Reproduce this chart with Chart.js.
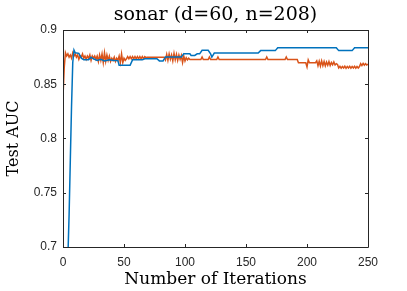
<!DOCTYPE html>
<html>
<head>
<meta charset="utf-8">
<script src="https://cdn.jsdelivr.net/npm/chart.js@4"></script>
<style>
  html, body { margin: 0; padding: 0; background: #fff; }
  #wrap { width: 407px; height: 291px; }
</style>
</head>
<body>
<div id="wrap"><canvas id="aucChart" width="407" height="291"></canvas></div>
<script>
// Blue curve (step-like), breakpoints
const blueIter = [0, 1, 2, 3, 4, 5, 6, 7, 8, 9, 10, 13, 15, 17, 21, 23, 25, 28, 31, 34, 38, 42, 45, 46, 55, 57, 65, 67, 77, 79, 82, 84, 97, 99, 104, 105, 108, 110, 112, 114, 119, 121, 122, 124, 160, 162, 174, 176, 224, 226, 237, 239, 250];
const blueAuc = [0.52, 0.56, 0.60, 0.645, 0.69, 0.73, 0.78, 0.83, 0.87, 0.8815, 0.879, 0.8785, 0.874, 0.8725, 0.8725, 0.875, 0.8735, 0.872, 0.873, 0.8715, 0.8725, 0.872, 0.8718, 0.8675, 0.8675, 0.8725, 0.8725, 0.8735, 0.8735, 0.8715, 0.8715, 0.8752, 0.8752, 0.878, 0.878, 0.8765, 0.8765, 0.878, 0.878, 0.8813, 0.8813, 0.878, 0.875, 0.8788, 0.8788, 0.881, 0.881, 0.8837, 0.8837, 0.881, 0.881, 0.8837, 0.8837];

// Orange curve (noisy)
const orangeIter = [
  0, 1, 2, 3, 4, 5, 6, 7, 8, 9, 10, 11, 12, 13, 14, 15, 16, 17, 18, 19, 20, 21, 22, 23, 24, 25,
  26, 27, 28, 29, 30, 31, 32, 33, 34, 35, 36, 37, 38, 39, 40, 41, 42, 43, 44, 45, 46, 47, 48, 49, 50, 51,
  52, 53, 54, 55, 56, 57, 58, 59, 60, 61, 62, 63, 64, 65, 66, 67, 68,
  69, 83,
  84, 85, 86, 87, 88, 89, 90, 91, 92, 93, 94, 95, 96, 97, 98, 99, 100, 101, 102, 103,
  104, 113, 114, 115, 119, 120, 121, 126, 127, 128, 166, 167, 168, 182, 183, 184, 192, 193,
  199, 200, 201, 202, 207,
  208, 209, 210, 211, 212, 213, 214, 215, 216, 217, 218, 219, 220, 221, 222, 223, 224, 225,
  226, 227, 228, 229, 230, 231, 232, 233, 234, 235, 236, 237, 238, 239, 240, 241, 242, 243,
  244, 245, 246, 247, 248, 249, 250
];
const orangeAuc = [
  0.838, 0.865, 0.879, 0.876, 0.878, 0.875, 0.877, 0.874, 0.879, 0.876, 0.878, 0.875, 0.877, 0.873, 0.876, 0.875, 0.878, 0.874, 0.876, 0.873, 0.876, 0.874, 0.877, 0.872, 0.876, 0.874,
  0.876, 0.873, 0.876, 0.871, 0.877, 0.872, 0.878, 0.870, 0.879, 0.871, 0.877, 0.872, 0.876, 0.871, 0.874, 0.872, 0.875, 0.871, 0.874, 0.872, 0.876, 0.870, 0.878, 0.870, 0.874, 0.872,
  0.8735, 0.8755, 0.8735, 0.8755, 0.8735, 0.8755, 0.8735, 0.8755, 0.8735, 0.8755, 0.8735, 0.8755, 0.8735, 0.8755, 0.8735, 0.8755, 0.8745,
  0.875, 0.875,
  0.8725, 0.8775, 0.872, 0.878, 0.873, 0.877, 0.8715, 0.8785, 0.8725, 0.8775, 0.872, 0.877, 0.873, 0.8765, 0.870, 0.876, 0.8715, 0.8745, 0.8725, 0.874,
  0.8728, 0.8728, 0.8752, 0.8728, 0.8728, 0.8752, 0.8728, 0.8728, 0.8752, 0.8728, 0.8728, 0.8752, 0.8728, 0.8728, 0.8752, 0.8728, 0.8728, 0.8698,
  0.8698, 0.866, 0.8725, 0.8698, 0.8698,
  0.8715, 0.867, 0.8712, 0.8668, 0.8715, 0.8672, 0.871, 0.867, 0.8705, 0.8675, 0.871, 0.8672, 0.870, 0.868, 0.8705, 0.8678, 0.869, 0.8682,
  0.865, 0.8665, 0.8648, 0.8663, 0.865, 0.8666, 0.8647, 0.8664, 0.865, 0.8665, 0.8648, 0.8663, 0.865, 0.8666, 0.8648, 0.8664, 0.865, 0.8663,
  0.869, 0.8672, 0.8692, 0.8675, 0.869, 0.8678, 0.8685
];

const xTicks = [0, 50, 100, 150, 200, 250];
const yTicks = [0.7, 0.75, 0.8, 0.85, 0.9];
const chartTitle = "sonar (d=60, n=208)";

const axisColor = "#262626";
const serif = "'DejaVu Serif', 'Liberation Serif', serif";
const sans = "'Liberation Sans', Arial, sans-serif";

function toPoints(xs, ys) {
  return xs.map((x, i) => ({ x: x, y: ys[i] }));
}

// MATLAB style box with inward ticks on all four sides, title centred over the axes
const boxPlugin = {
  id: "boxPlugin",
  afterDraw(chart) {
    const ctx = chart.ctx;
    const a = chart.chartArea;
    const xs = chart.scales.x;
    const ys = chart.scales.y;
    const len = 3;
    ctx.save();
    ctx.strokeStyle = axisColor;
    ctx.lineWidth = 1;
    ctx.beginPath();
    ctx.rect(Math.round(a.left) + 0.5, Math.round(a.top) + 0.5, Math.round(a.right - a.left), Math.round(a.bottom - a.top));
    xTicks.forEach(v => {
      const px = Math.round(xs.getPixelForValue(v)) + 0.5;
      ctx.moveTo(px, a.bottom);
      ctx.lineTo(px, a.bottom - len);
      ctx.moveTo(px, a.top);
      ctx.lineTo(px, a.top + len);
    });
    yTicks.forEach(v => {
      const py = Math.round(ys.getPixelForValue(v)) + 0.5;
      ctx.moveTo(a.left, py);
      ctx.lineTo(a.left + len, py);
      ctx.moveTo(a.right, py);
      ctx.lineTo(a.right - len, py);
    });
    ctx.stroke();

    ctx.fillStyle = "#000";
    ctx.font = "19px " + serif;
    ctx.textAlign = "center";
    ctx.textBaseline = "middle";
    ctx.fillText(chartTitle, (a.left + a.right) / 2, 15);
    ctx.restore();
  }
};

const ctx = document.getElementById("aucChart").getContext("2d");
new Chart(ctx, {
  type: "line",
  data: {
    datasets: [
      {
        label: "blue",
        data: toPoints(blueIter, blueAuc),
        borderColor: "#0072BD",
        borderWidth: 1.5,
        pointRadius: 0,
        tension: 0
      },
      {
        label: "orange",
        data: toPoints(orangeIter, orangeAuc),
        borderColor: "#D95319",
        borderWidth: 1.5,
        pointRadius: 0,
        tension: 0
      }
    ]
  },
  plugins: [boxPlugin],
  options: {
    responsive: false,
    animation: false,
    layout: { padding: { left: 0, right: 39, top: 30, bottom: 0 } },
    plugins: {
      legend: { display: false },
      tooltip: { enabled: false },
      title: { display: false }
    },
    scales: {
      x: {
        type: "linear",
        min: 0,
        max: 250,
        afterFit(scale) { scale.height = 44; },
        afterBuildTicks(scale) { scale.ticks = xTicks.map(v => ({ value: v })); },
        grid: { display: false, drawTicks: false },
        border: { display: false },
        ticks: {
          color: axisColor,
          font: { family: sans, size: 12 },
          padding: 8,
          maxRotation: 0
        },
        title: {
          display: true,
          text: "Number of Iterations",
          color: "#000",
          font: { family: serif, size: 17 },
          padding: { top: 0, bottom: 1 }
        }
      },
      y: {
        min: 0.7,
        max: 0.9,
        afterFit(scale) { scale.width = 63; },
        afterBuildTicks(scale) { scale.ticks = yTicks.map(v => ({ value: v })); },
        grid: { display: false, drawTicks: false },
        border: { display: false },
        ticks: {
          color: axisColor,
          font: { family: sans, size: 12 },
          padding: 6,
          callback: v => String(Number(v.toFixed(2)))
        },
        title: {
          display: true,
          text: "Test AUC",
          color: "#000",
          font: { family: serif, size: 16 },
          padding: { top: 4, bottom: 0 }
        }
      }
    }
  }
});
</script>
</body>
</html>
